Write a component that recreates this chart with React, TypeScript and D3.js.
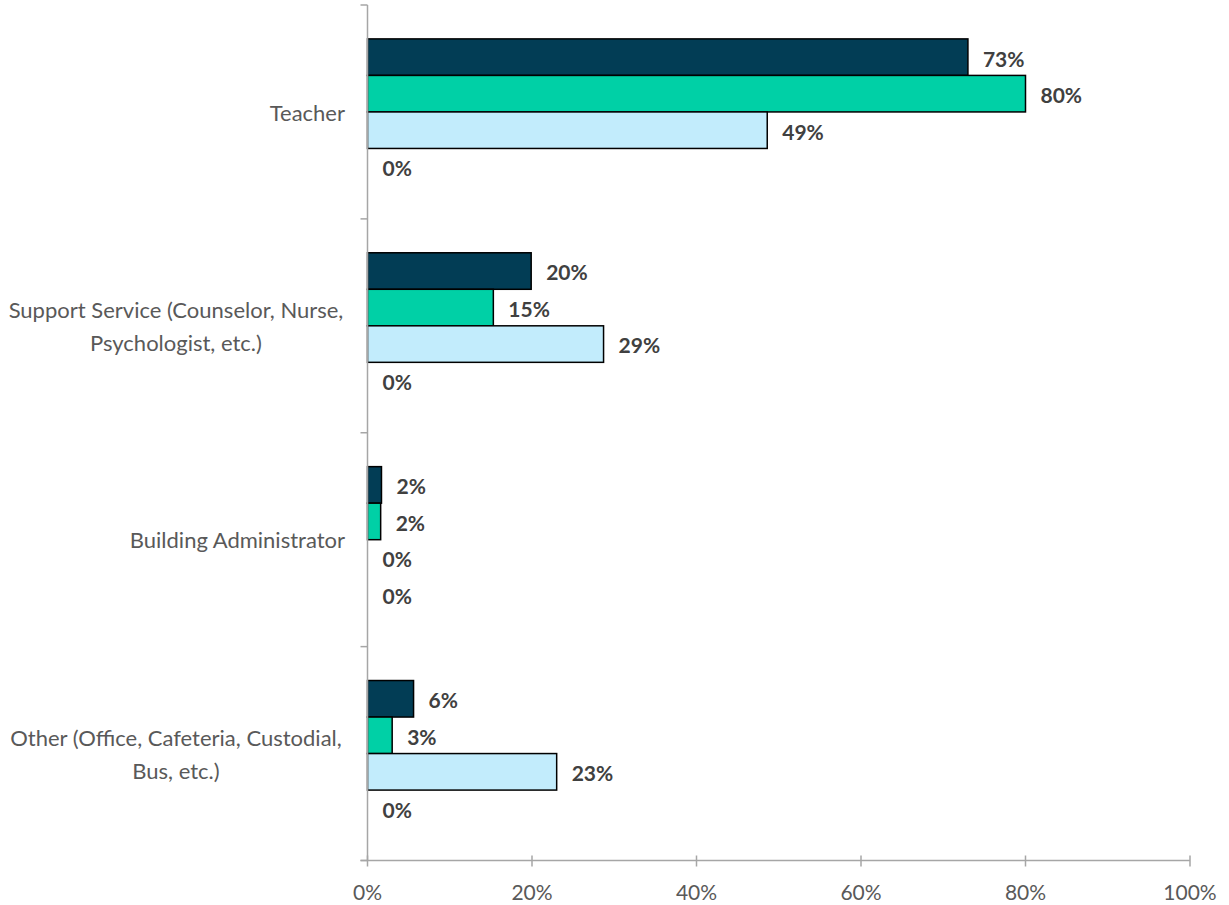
import React from "react";
import * as d3 from "d3";

const categories = [
  ["Teacher"],
  ["Support Service (Counselor, Nurse,", "Psychologist, etc.)"],
  ["Building Administrator"],
  ["Other (Office, Cafeteria, Custodial,", "Bus, etc.)"],
];
const seriesA = [73, 19.9, 1.7, 5.6];
const seriesB = [80, 15.3, 1.6, 3.0];
const seriesC = [48.6, 28.7, 0, 23.0];
const seriesD = [0, 0, 0, 0];
const seriesColors = ["#023d55", "#00d0a6", "#c2ecfc", "#9dc3e6"];
const xTicks = [0, 20, 40, 60, 80, 100];

const W = 1229;
const H = 905;
const left = 367.5;
const right = 1190;
const top = 5;
const bottom = 860.5;
const font = "Lato, 'Open Sans', sans-serif";

export default function App() {
  const series = [seriesA, seriesB, seriesC, seriesD];
  const x = d3.scaleLinear().domain([0, 100]).range([left, right]);
  const y = d3
    .scaleBand<number>()
    .domain(d3.range(categories.length))
    .range([top, bottom])
    .paddingInner(0.317)
    .paddingOuter(0.1585);
  const inner = d3
    .scaleBand<number>()
    .domain(d3.range(series.length))
    .range([0, y.bandwidth()]);
  const bandStep = (bottom - top) / categories.length;

  return (
    <svg width={W} height={H} style={{ position: "absolute", left: 0, top: 0 }}>
      <rect width={W} height={H} fill="#fff" />
      {series.map((vals, si) =>
        vals.map((v, ci) => {
          const y0 = (y(ci) as number) + (inner(si) as number);
          const bh = inner.bandwidth();
          return (
            <g key={`${si}-${ci}`}>
              {v > 0 && (
                <rect
                  x={x(0)}
                  y={y0}
                  width={x(v) - x(0)}
                  height={bh}
                  fill={seriesColors[si]}
                  stroke="#000"
                  strokeWidth={1.5}
                />
              )}
              <text
                x={x(v) + 15}
                y={y0 + bh / 2 + 2}
                dy="0.35em"
                fontFamily={font}
                fontWeight="bold"
                fontSize={21}
                fill="#404040"
              >
                {`${Math.round(v)}%`}
              </text>
            </g>
          );
        })
      )}
      {/* y axis */}
      <line x1={left} x2={left} y1={top} y2={bottom} stroke="#a6a6a6" strokeWidth={1.5} />
      {d3.range(categories.length + 1).map((i) => (
        <line
          key={i}
          x1={left - 7}
          x2={left}
          y1={top + i * bandStep}
          y2={top + i * bandStep}
          stroke="#a6a6a6"
          strokeWidth={1.5}
        />
      ))}
      {categories.map((lines, ci) => {
        const cy = (y(ci) as number) + y.bandwidth() / 2 + 1;
        const lh = 33;
        const start = cy - ((lines.length - 1) * lh) / 2;
        return (
          <text
            key={ci}
            fontFamily={font}
            fontSize={22}
            fill="#595959"
          >
            {lines.map((l, li) => (
              <tspan
                key={li}
                x={lines.length > 1 ? 176 : 345}
                y={start + li * lh}
                dy="0.35em"
                textAnchor={lines.length > 1 ? "middle" : "end"}
              >
                {l}
              </tspan>
            ))}
          </text>
        );
      })}
      {/* x axis */}
      <line x1={left - 7} x2={right} y1={bottom} y2={bottom} stroke="#a6a6a6" strokeWidth={1.5} />
      {xTicks.map((t) => (
        <g key={t}>
          <line x1={x(t)} x2={x(t)} y1={bottom - 5} y2={bottom + 6} stroke="#a6a6a6" strokeWidth={1.5} />
          <text
            x={x(t)}
            y={893}
            dy="0.35em"
            textAnchor="middle"
            fontFamily={font}
            fontSize={21}
            fill="#595959"
          >
            {`${t}%`}
          </text>
        </g>
      ))}
    </svg>
  );
}
